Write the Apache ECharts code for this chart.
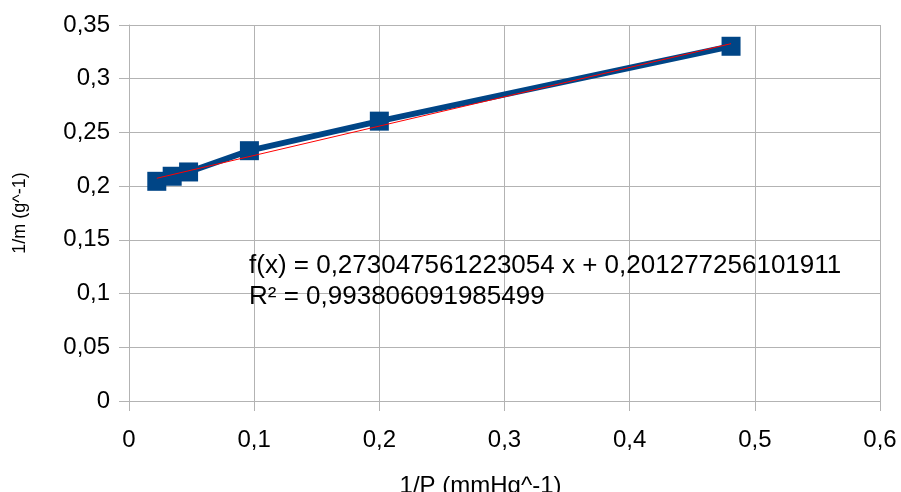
<!DOCTYPE html>
<html>
<head>
<meta charset="utf-8">
<script src="https://cdn.jsdelivr.net/npm/echarts@6/dist/echarts.min.js"></script>
<style>
  html, body { margin: 0; padding: 0; background: #fff; }
  #chart { width: 901px; height: 492px; }
</style>
</head>
<body>
<div id="chart"></div>
<script>
// measured points, 1/P vs 1/m
var invP = [0.0222, 0.0345, 0.0476, 0.0962, 0.2, 0.481];
var invM = [0.2045, 0.2092, 0.2132, 0.2330, 0.2605, 0.3302];
// linear trendline as printed on the chart
var slope = 0.273047561223054;
var intercept = 0.201277256101911;
var rSquared = '0,993806091985499';

var points = invP.map(function (x, i) { return [x, invM[i]]; });
var xMin = invP[0], xMax = invP[invP.length - 1];
var trend = [[xMin, slope * xMin + intercept], [xMax, slope * xMax + intercept]];

function comma(v) { return String(v).replace('.', ','); }

var chart = echarts.init(document.getElementById('chart'));
var font = 'Liberation Sans, Arial, sans-serif';

chart.setOption({
  animation: false,
  textStyle: { fontFamily: font },
  grid: { left: 129, right: 21, top: 25, bottom: 91, containLabel: false, outerBoundsMode: 'none' },
  xAxis: {
    type: 'value',
    min: 0, max: 0.6, interval: 0.1,
    name: '1/P (mmHg^-1)',
    nameLocation: 'middle',
    nameGap: 73,
    nameTextStyle: { fontSize: 24, color: '#000', fontFamily: font, padding: [0, 48, 0, 0] },
    axisLine: { show: true, lineStyle: { color: '#b3b3b3' } },
    axisTick: { show: true, length: 10, lineStyle: { color: '#b3b3b3' } },
    splitLine: { show: true, lineStyle: { color: '#b3b3b3' } },
    axisLabel: { fontSize: 24, color: '#000', margin: 27, formatter: comma }
  },
  yAxis: {
    type: 'value',
    min: 0, max: 0.35, interval: 0.05,
    name: '1/m (g^-1)',
    nameLocation: 'middle',
    nameGap: 100,
    nameTextStyle: { fontSize: 18, color: '#000', fontFamily: font },
    axisLine: { show: true, lineStyle: { color: '#b3b3b3' } },
    axisTick: { show: true, length: 10, lineStyle: { color: '#b3b3b3' } },
    splitLine: { show: true, lineStyle: { color: '#b3b3b3' } },
    axisLabel: { fontSize: 24, color: '#000', margin: 19, formatter: comma }
  },
  graphic: [{
    type: 'text',
    left: 249,
    top: 250,
    z: 100,
    style: {
      text: 'f(x) = ' + comma(slope) + ' x + ' + comma(intercept) + '\nR² = ' + rSquared,
      font: '26px ' + font,
      fill: '#000',
      lineHeight: 31
    }
  }],
  series: [
    {
      type: 'line',
      data: points,
      symbol: 'rect',
      symbolSize: 19,
      itemStyle: { color: '#004586' },
      lineStyle: { color: '#004586', width: 6 },
      z: 2
    },
    {
      type: 'line',
      data: trend,
      symbol: 'none',
      lineStyle: { color: '#ff0000', width: 1 },
      z: 3
    }
  ]
});
</script>
</body>
</html>
